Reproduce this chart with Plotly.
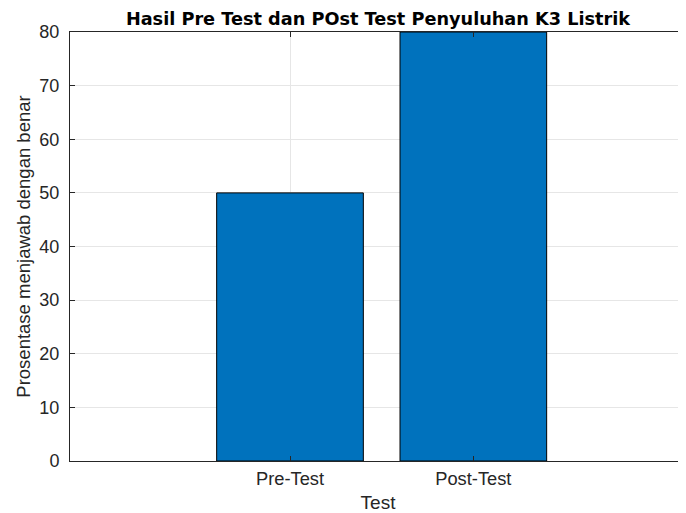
import plotly.graph_objects as go

categories = ["Pre-Test", "Post-Test"]
positions = [1, 2]
values = [50, 80]
y_ticks = [0, 10, 20, 30, 40, 50, 60, 70, 80]

title_text = "Hasil Pre Test dan POst Test Penyuluhan K3 Listrik"
x_label = "Test"
y_label = "Prosentase menjawab dengan benar"

axis_color = "#262626"
grid_color = "#e6e6e6"

# The page body adds an 8px margin, so the figure is sized to end at the window edge.
fig = go.Figure(
    go.Bar(
        x=positions,
        y=values,
        width=0.8,
        marker=dict(color="#0072BD", line=dict(color="black", width=1)),
    )
)

fig.update_layout(
    width=678,
    height=505,
    margin=dict(l=62, r=0, t=24, b=52, autoexpand=False),
    plot_bgcolor="white",
    paper_bgcolor="white",
    showlegend=False,
    font=dict(family="Liberation Sans, Arial, sans-serif", color=axis_color, size=18),
    title=dict(
        text="<b>" + title_text + "</b>",
        xref="paper",
        x=0.5,
        xanchor="center",
        yref="container",
        y=1 - 10.8 / 505,
        yanchor="middle",
        font=dict(family="DejaVu Sans, Liberation Sans, sans-serif", size=17.7, color="black"),
    ),
)

fig.update_xaxes(
    range=[-0.2, 3.16],
    tickvals=positions,
    ticktext=categories,
    ticks="inside",
    ticklen=5,
    tickcolor=axis_color,
    tickfont=dict(size=18.3),
    showline=True,
    linecolor=axis_color,
    linewidth=1,
    mirror="ticks",
    showgrid=True,
    gridcolor=grid_color,
    zeroline=False,
    automargin=False,
    ticklabelstandoff=1,
    title=dict(text=x_label, font=dict(size=19), standoff=8),
)

fig.update_yaxes(
    range=[0, 80],
    tickvals=y_ticks,
    ticks="inside",
    ticklen=5,
    tickcolor=axis_color,
    showline=True,
    linecolor=axis_color,
    linewidth=1,
    showgrid=True,
    gridcolor=grid_color,
    zeroline=False,
    automargin=False,
    ticklabelstandoff=6,
    title=dict(text=y_label, font=dict(size=18.5), standoff=3),
)

fig.write_html("out.html")
